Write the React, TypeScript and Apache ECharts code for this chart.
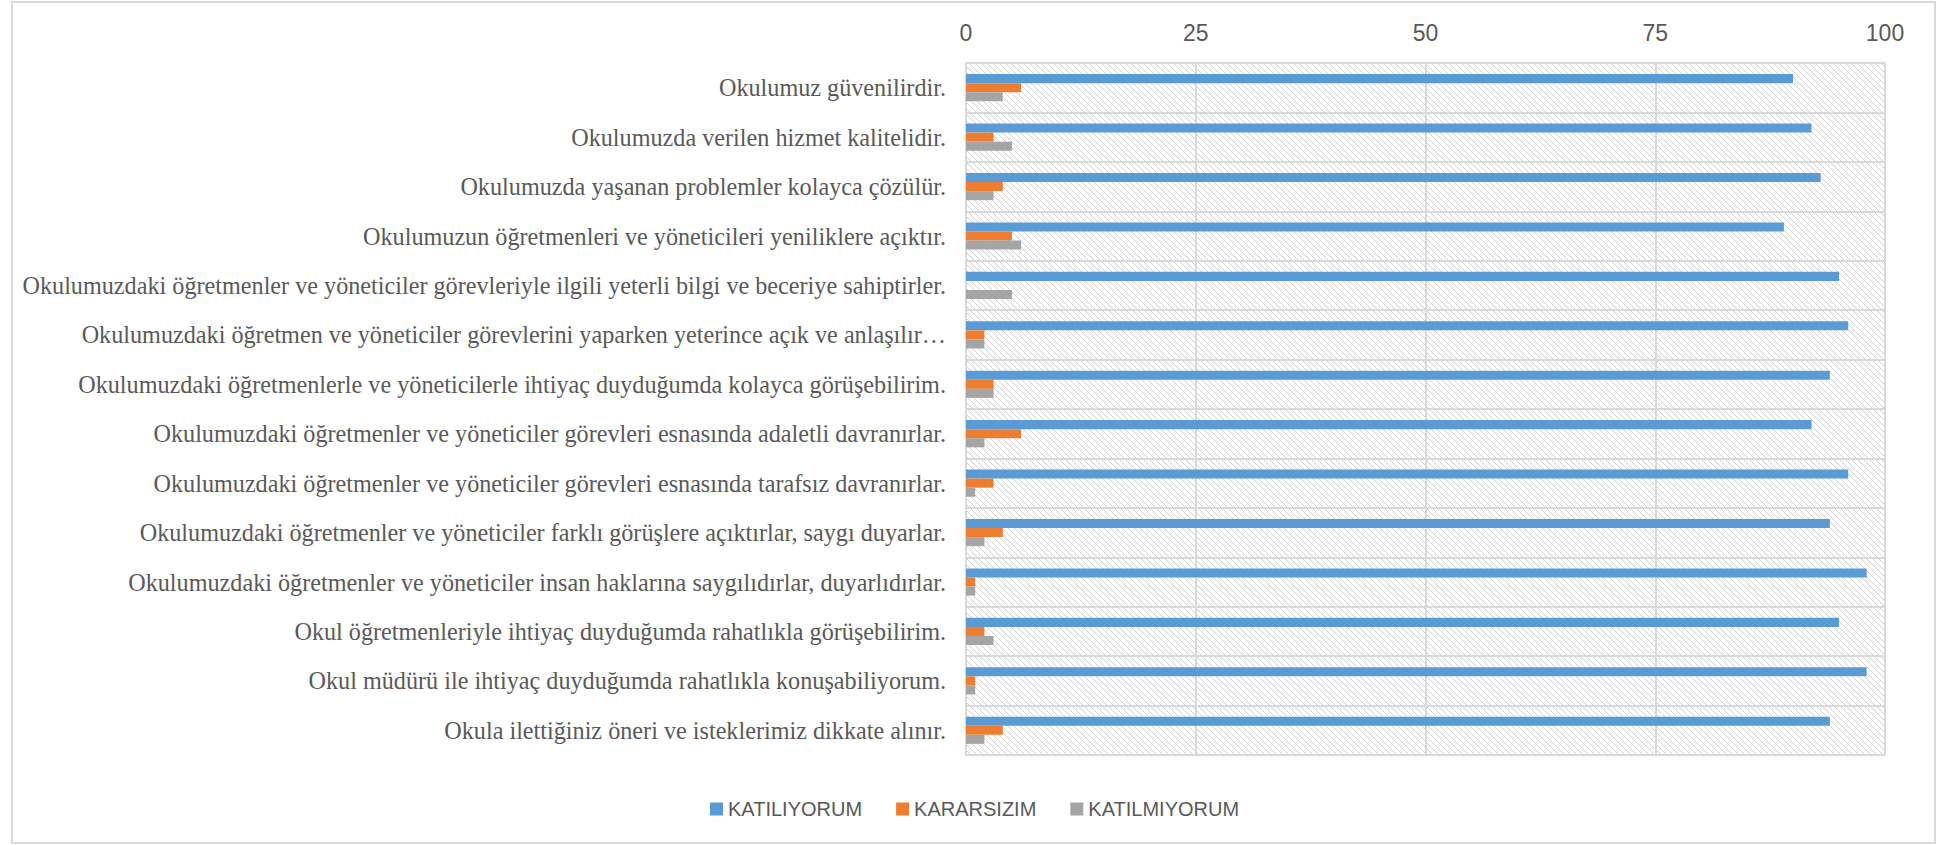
import React, { useEffect, useRef } from "react";
import * as echarts from "echarts";

const categories: string[] = [
  "Okulumuz güvenilirdir.",
  "Okulumuzda verilen hizmet kalitelidir.",
  "Okulumuzda yaşanan problemler kolayca çözülür.",
  "Okulumuzun öğretmenleri ve yöneticileri yeniliklere açıktır.",
  "Okulumuzdaki öğretmenler ve yöneticiler görevleriyle ilgili yeterli bilgi ve beceriye sahiptirler.",
  "Okulumuzdaki öğretmen ve yöneticiler görevlerini yaparken yeterince açık ve anlaşılır…",
  "Okulumuzdaki öğretmenlerle ve yöneticilerle ihtiyaç duyduğumda kolayca görüşebilirim.",
  "Okulumuzdaki öğretmenler ve yöneticiler görevleri esnasında adaletli davranırlar.",
  "Okulumuzdaki öğretmenler ve yöneticiler görevleri esnasında tarafsız davranırlar.",
  "Okulumuzdaki öğretmenler ve yöneticiler farklı görüşlere açıktırlar, saygı duyarlar.",
  "Okulumuzdaki öğretmenler ve yöneticiler insan haklarına saygılıdırlar, duyarlıdırlar.",
  "Okul öğretmenleriyle ihtiyaç duyduğumda rahatlıkla görüşebilirim.",
  "Okul müdürü ile ihtiyaç duyduğumda rahatlıkla konuşabiliyorum.",
  "Okula ilettiğiniz öneri ve isteklerimiz dikkate alınır.",
];

const katiliyorum: number[] = [90, 92, 93, 89, 95, 96, 94, 92, 96, 94, 98, 95, 98, 94];
const kararsizim: number[] = [6, 3, 4, 5, 0, 2, 3, 6, 3, 4, 1, 2, 1, 4];
const katilmiyorum: number[] = [4, 5, 3, 6, 5, 2, 3, 2, 1, 2, 1, 3, 1, 2];

const seriesNames: string[] = ["KATILIYORUM", "KARARSIZIM", "KATILMIYORUM"];
const seriesColors: string[] = ["#5b9bd5", "#ed7d31", "#a5a5a5"];

function makeHatch(): HTMLCanvasElement {
  const s = 6;
  const c = document.createElement("canvas");
  c.width = s;
  c.height = s;
  const ctx = c.getContext("2d")!;
  ctx.fillStyle = "#ffffff";
  ctx.fillRect(0, 0, s, s);
  ctx.strokeStyle = "#d0d0d0";
  ctx.lineWidth = 1;
  ctx.beginPath();
  ctx.moveTo(-1, -1);
  ctx.lineTo(s + 1, s + 1);
  ctx.moveTo(-1 - s, -1);
  ctx.lineTo(1, s + 1);
  ctx.moveTo(s - 1, -1);
  ctx.lineTo(2 * s + 1, s + 1);
  ctx.stroke();
  return c;
}

export default function App() {
  const ref = useRef<HTMLDivElement>(null);

  useEffect(() => {
    document.body.style.margin = "0";
    if (!ref.current) return;
    const chart = echarts.init(ref.current, null, { renderer: "svg" });
    const hatch = makeHatch();
    const values = [katiliyorum, kararsizim, katilmiyorum];
    chart.setOption({
      animation: false,
      backgroundColor: "#ffffff",
      graphic: [
        {
          type: "rect",
          shape: { x: 12, y: 2, width: 1923, height: 841 },
          style: { fill: "none", stroke: "#d9d9d9", lineWidth: 2 },
          silent: true,
        },
      ],
      legend: {
        data: seriesNames,
        left: 705,
        top: 794,
        itemWidth: 13,
        itemHeight: 13,
        itemGap: 34,
        icon: "rect",
        textStyle: {
          fontFamily: "'Liberation Sans', Arial, sans-serif",
          fontSize: 20,
          color: "#595959",
        },
      },
      grid: {
        left: 966,
        right: 63,
        top: 63,
        bottom: 90,
        show: true,
        borderWidth: 0,
        backgroundColor: {
          image: hatch,
          repeat: "repeat",
          imageWidth: 6,
          imageHeight: 6,
        },
      },
      xAxis: {
        type: "value",
        position: "top",
        min: 0,
        max: 100,
        interval: 25,
        axisLine: { show: false },
        axisTick: { show: false },
        axisLabel: {
          margin: 19,
          fontFamily: "'Liberation Sans', Arial, sans-serif",
          fontSize: 23,
          color: "#595959",
        },
        splitLine: { show: true, lineStyle: { color: "#d9d9d9", width: 2 } },
      },
      yAxis: {
        type: "category",
        data: categories,
        inverse: true,
        axisLine: { show: true, lineStyle: { color: "#d9d9d9", width: 2 } },
        axisTick: { show: false },
        axisLabel: {
          margin: 20,
          fontFamily: "'Liberation Serif', 'Times New Roman', serif",
          fontSize: 24.2,
          color: "#595959",
        },
        splitLine: { show: true, lineStyle: { color: "#d9d9d9", width: 2 } },
      },
      series: seriesNames.map((name, i) => ({
        name,
        type: "bar",
        data: values[i],
        barGap: "0%",
        barCategoryGap: "45%",
        itemStyle: { color: seriesColors[i] },
      })),
    });
    return () => {
      chart.dispose();
    };
  }, []);

  return (
    <div
      ref={ref}
      style={{ position: "fixed", left: 0, top: 0, width: 1948, height: 845 }}
    />
  );
}
